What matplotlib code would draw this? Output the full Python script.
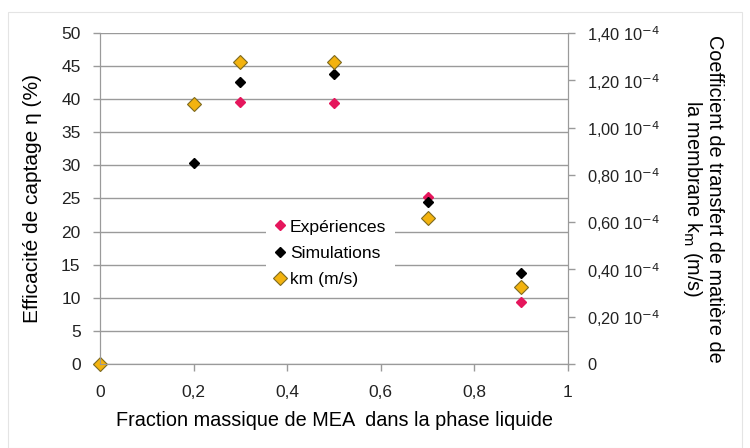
import matplotlib as mpl
import matplotlib.pyplot as plt
from matplotlib.patches import Rectangle

mpl.rcParams["font.family"] = ["Liberation Sans", "DejaVu Sans"]
mpl.rcParams["font.size"] = 11

# Data
fraction_exp = [0.3, 0.5, 0.7, 0.9]
efficacite_exp = [39.6, 39.4, 25.3, 9.3]

fraction_sim = [0.2, 0.3, 0.5, 0.7, 0.9]
efficacite_sim = [30.3, 42.6, 43.8, 24.5, 13.8]

fraction_km = [0.0, 0.2, 0.3, 0.5, 0.7, 0.9]
km_values = [0.0, 1.098e-4, 1.277e-4, 1.277e-4, 0.616e-4, 0.325e-4]

x_ticks = [0, 0.2, 0.4, 0.6, 0.8, 1]
x_ticklabels = ["0", "0,2", "0,4", "0,6", "0,8", "1"]
left_ticks = list(range(0, 55, 5))
right_ticks = [0, 0.2e-4, 0.4e-4, 0.6e-4, 0.8e-4, 1.0e-4, 1.2e-4, 1.4e-4]
right_ticklabels = ["0"] + [
    s + r" 10$^{-4}$" for s in ["0,20", "0,40", "0,60", "0,80", "1,00", "1,20", "1,40"]
]

grey = "#9a9a9a"
pink = "#e5165c"
yellow = "#f3b30f"

fig = plt.figure(figsize=(7.5, 4.48), dpi=100)
fig.patches.append(
    Rectangle((8 / 750, 0.0), 734 / 750, 1 - 12 / 448, transform=fig.transFigure,
              fill=False, edgecolor="#e4e4e4", linewidth=0.8)
)
ax = fig.add_axes([100 / 750, 1 - 364 / 448, 468 / 750, 331 / 448])
ax2 = ax.twinx()

ax.set_xlim(0, 1)
ax.set_ylim(0, 50)
ax2.set_ylim(0, 1.4e-4)

ax.set_yticks(left_ticks)
ax.set_xticks(x_ticks)
ax.set_xticklabels(x_ticklabels)
ax2.set_yticks(right_ticks)
ax2.set_yticklabels(right_ticklabels)

ax.yaxis.grid(True, color=grey, linewidth=1.0)
ax.set_axisbelow(True)
for a in (ax, ax2):
    a.spines["top"].set_visible(False)
    for side in ("left", "bottom", "right"):
        a.spines[side].set_color(grey)
    a.tick_params(colors=grey, labelcolor="#222222", length=5, width=1.0)
ax.tick_params(axis="y", pad=9, labelsize=12.5)
ax.tick_params(axis="x", pad=10, labelsize=12.5)
ax2.tick_params(axis="y", pad=9, labelsize=11.8)

h1, = ax.plot(fraction_exp, efficacite_exp, "D", color=pink, markersize=5.5,
              markeredgecolor=pink, linestyle="none", label="Expériences")
h2, = ax.plot(fraction_sim, efficacite_sim, "D", color="black", markersize=5.5,
              linestyle="none", label="Simulations")
h3, = ax2.plot(fraction_km, km_values, "D", color=yellow, markersize=7.5,
               markeredgecolor="#7d6a20", markeredgewidth=0.8, linestyle="none",
               label="km (m/s)", clip_on=False)

ax.set_xlabel("Fraction massique de MEA  dans la phase liquide", fontsize=14.3,
              labelpad=8)
ax.set_ylabel("Efficacité de captage η (%)", fontsize=15, labelpad=14)
ax2.set_ylabel("Coefficient de transfert de matière de\nla membrane k$_\\mathrm{m}$ (m/s)",
               fontsize=14.3, rotation=-90, labelpad=46, linespacing=1.1)

leg = ax2.legend(handles=[h1, h2, h3], loc="upper left", bbox_to_anchor=(0.335, 0.49),
                 frameon=True, fancybox=False, fontsize=12.6, handlelength=0.6,
                 handletextpad=0.3, borderpad=0.5, labelspacing=0.62)
leg.get_frame().set_facecolor("white")
leg.get_frame().set_edgecolor("none")
leg.get_frame().set_alpha(1.0)

fig.savefig("out.png", dpi=100)
